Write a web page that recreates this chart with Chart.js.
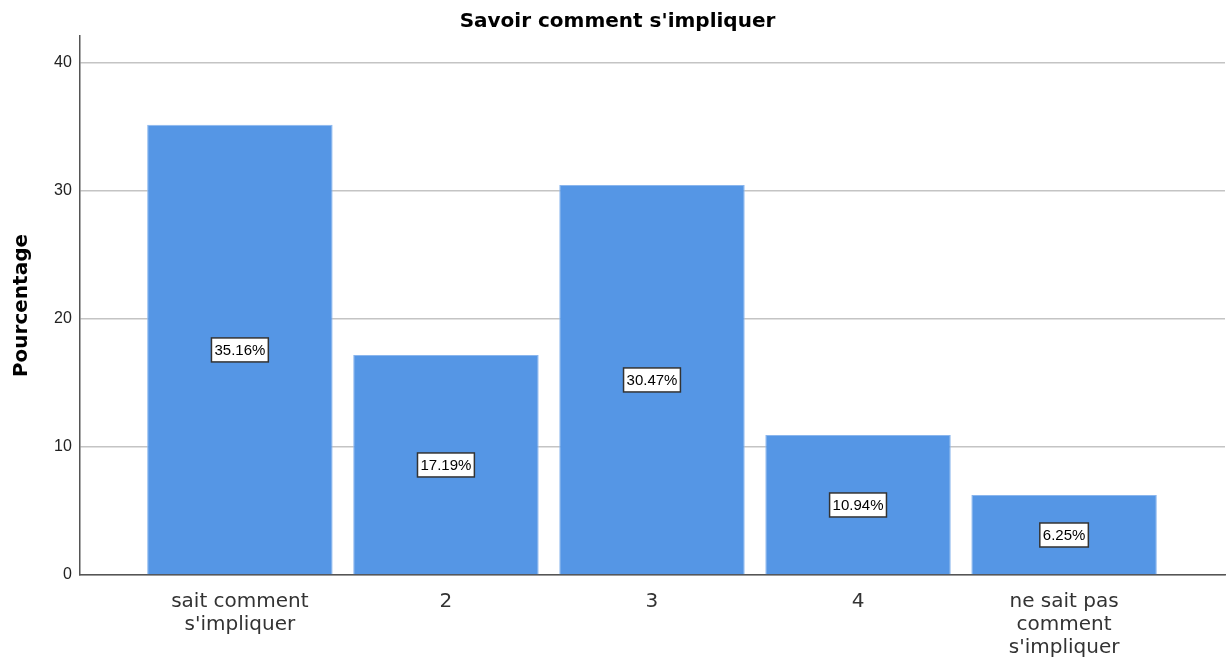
<!DOCTYPE html>
<html>
<head>
<meta charset="utf-8">
<script src="https://cdn.jsdelivr.net/npm/chart.js@4"></script>
<style>
  html, body { margin: 0; padding: 0; background: #fff; }
  #wrap { width: 1227px; height: 664px; }
</style>
</head>
<body>
<div id="wrap"><canvas id="chart"></canvas></div>
<script>
const categories = [
  ['sait comment', "s'impliquer"],
  ['2'],
  ['3'],
  ['4'],
  ['ne sait pas', 'comment', "s'impliquer"]
];
const percents = [35.16, 17.19, 30.47, 10.94, 6.25];
const yTicks = [0, 10, 20, 30, 40];

const ctx = document.getElementById('chart');

// white boxes with the percentage in the middle of each bar
const boxLabels = {
  id: 'boxLabels',
  afterDatasetsDraw(chart) {
    const c = chart.ctx;
    const meta = chart.getDatasetMeta(0);
    const yScale = chart.scales.y;
    c.save();
    c.font = '15px "Liberation Sans", Arial, sans-serif';
    c.textAlign = 'center';
    c.textBaseline = 'middle';
    meta.data.forEach((bar, i) => {
      const txt = percents[i].toFixed(2) + '%';
      const cx = bar.x;
      const cy = yScale.getPixelForValue(percents[i] / 2);
      const w = c.measureText(txt).width + 6;
      const h = 24;
      c.fillStyle = '#ffffff';
      c.fillRect(cx - w / 2, cy - h / 2, w, h);
      c.strokeStyle = '#333333';
      c.lineWidth = 1.5;
      c.strokeRect(cx - w / 2, cy - h / 2, w, h);
      c.fillStyle = '#000000';
      c.fillText(txt, cx, cy + 1);
    });
    c.restore();
  }
};

new Chart(ctx, {
  type: 'bar',
  data: {
    datasets: [{
      data: percents.map((v, i) => ({ x: i, y: v })),
      backgroundColor: '#5596e5',
      borderColor: '#8ab6ee',
      borderWidth: 1,
      barPercentage: 0.9,
      categoryPercentage: 1.0
    }]
  },
  options: {
    responsive: true,
    maintainAspectRatio: false,
    animation: false,
    layout: { padding: { left: 10, right: 2, top: 0, bottom: -10 } },
    scales: {
      x: {
        type: 'linear',
        offset: false,
        min: -0.777,
        max: 4.781,
        afterBuildTicks(scale) {
          scale.ticks = categories.map((c, i) => ({ value: i }));
        },
        grid: { display: false, drawTicks: false, offset: false },
        border: { display: true, color: '#555555', width: 1.5 },
        ticks: {
          autoSkip: false,
          maxRotation: 0,
          padding: 15,
          color: '#333333',
          font: { size: 20, family: '"DejaVu Sans", sans-serif', lineHeight: 1.15 },
          callback: (v) => categories[v]
        }
      },
      y: {
        min: 0,
        max: 42.1,
        afterBuildTicks(scale) {
          scale.ticks = yTicks.map(v => ({ value: v }));
        },
        grid: { color: '#c4c4c4', lineWidth: 1.5, drawTicks: false },
        border: { display: true, color: '#555555', width: 1.5 },
        ticks: {
          padding: 8,
          color: '#222222',
          font: { size: 16, family: '"Liberation Sans", Arial, sans-serif' }
        },
        title: {
          display: true,
          text: 'Pourcentage',
          color: '#000000',
          padding: { top: 0, bottom: 12 },
          font: { size: 20, weight: 'bold', family: '"DejaVu Sans", sans-serif' }
        }
      }
    },
    plugins: {
      legend: { display: false },
      tooltip: { enabled: false },
      title: {
        display: true,
        text: "Savoir comment s'impliquer",
        color: '#000000',
        padding: { top: 10, bottom: 2 },
        font: { size: 20, weight: 'bold', family: '"DejaVu Sans", sans-serif' }
      }
    }
  },
  plugins: [boxLabels]
});
</script>
</body>
</html>
